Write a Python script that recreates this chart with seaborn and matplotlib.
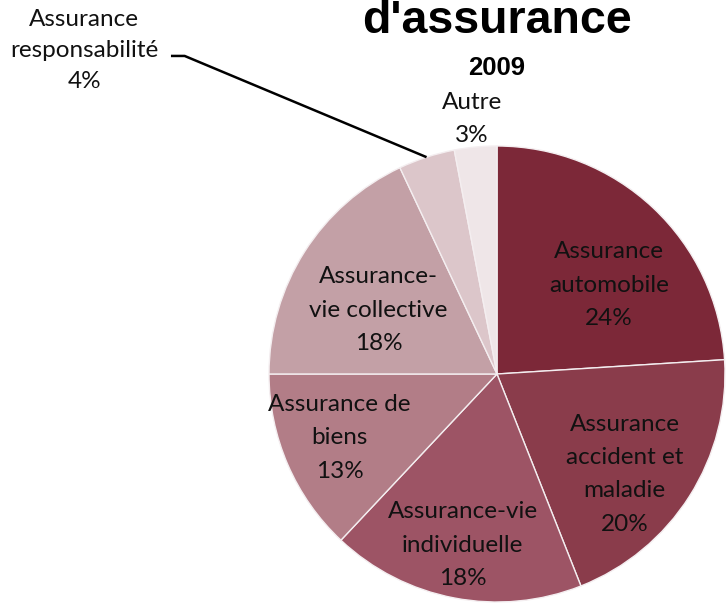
import numpy as np
import matplotlib
matplotlib.use("Agg")
import matplotlib.pyplot as plt
import seaborn as sns

sns.set_theme(style="white")
plt.rcParams['font.family'] = ['Lato', 'DejaVu Sans']

categories = ["Assurance\nautomobile", "Assurance\naccident et\nmaladie",
              "Assurance-vie\nindividuelle", "Assurance de\nbiens",
              "Assurance-\nvie collective", "Assurance\nresponsabilité", "Autre"]
shares = [24, 20, 18, 13, 18, 4, 3]
colors = ["#7c2838", "#8a3c4b", "#9d5465", "#b27d87", "#c3a0a6", "#dcc6ca", "#efe6e8"]

# label anchor points in pie units (radius = 1)
label_pos = [(0.49, 0.39), (0.56, -0.44), (-0.15, -0.75), (-0.69, -0.28),
             (-0.52, 0.28), (-1.81, 1.42), (-0.11, 1.12)]

W, H = 728, 609
cx, cy, R = 497, 374, 228
fig = plt.figure(figsize=(W / 100, H / 100), dpi=100)
ax = fig.add_axes([(cx - R) / W, (H - cy - R) / H, 2 * R / W, 2 * R / H])

wedges, _ = ax.pie(shares, colors=colors, startangle=90, counterclock=False,
                   radius=1, wedgeprops=dict(edgecolor="#f4eef0", linewidth=1.0))
ax.set_xlim(-1, 1)
ax.set_ylim(-1, 1)
ax.set_aspect("equal")
ax.axis("off")

for w, cat, val, (lx, ly) in zip(wedges, categories, shares, label_pos):
    ls = 1.6 if val == 4 else 1.72
    ax.text(lx, ly, f"{cat}\n{val}%", ha="center", va="center", fontsize=17.5,
            color="#111111", linespacing=ls, clip_on=False)

# leader line for the small "responsabilité" slice
w = wedges[5]
mid = np.deg2rad((w.theta1 + w.theta2) / 2)
ex, ey = np.cos(mid), np.sin(mid)
ax.plot([-1.43, -1.37, ex], [1.395, 1.395, ey], color="black", lw=1.8,
        clip_on=False, solid_capstyle="butt")

# title is cropped at the top edge, as in the reference
fig.text(cx / W, 1 - 33 / H, "d'assurance", ha="center", va="baseline",
         fontsize=33.5, fontweight="bold", family="Liberation Sans", color="black")
fig.text(cx / W, 1 - 68 / H, "2009", ha="center", va="center",
         fontsize=18.5, fontweight="bold", family="Liberation Sans", color="black")

fig.savefig("out.png", dpi=100, facecolor="white")
